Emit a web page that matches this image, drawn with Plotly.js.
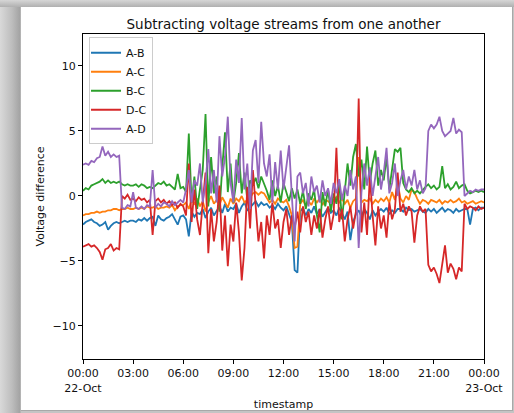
<!DOCTYPE html>
<html>
<head>
<meta charset="utf-8">
<script src="https://cdn.plot.ly/plotly-3.0.1.min.js"></script>
<style>
  html, body { margin:0; padding:0; width:514px; height:413px; overflow:hidden; }
  body { background: linear-gradient(to right, #d9d9d9 0px, #bdbdbd 12px, #a3a3a3 20px, #c4c4c4 21px); position:relative; }
  #topstrip { position:absolute; left:0; top:0; width:514px; height:7px; background: linear-gradient(to bottom, #d6d6d6 0px, #b0b0b0 7px); }
  #card { position:absolute; left:21px; top:7px; width:491px; height:403px; background:#ffffff; border-right:1px solid #a8a8a8; border-bottom:1px solid #a8a8a8; }
  #chart { position:absolute; left:0; top:0; width:514px; height:413px; }
</style>
</head>
<body>
<div id="topstrip"></div>
<div id="card"></div>
<div id="chart"></div>
<script>
// Sampling: every 10 minutes from 22-Oct 00:00 to 23-Oct 00:00
const startTime = '2019-10-22T00:00:00';
const stepMinutes = 10;

const seriesNames = ['A-B', 'A-C', 'B-C', 'D-C', 'A-D'];

const valuesAB = [
  -2.2, -2.0, -1.9, -1.8, -2.0, -2.1,
  -2.3, -2.2, -2.0, -2.6, -2.3, -2.1,
  -2.0, -2.1, -2.0, -1.9, -2.0, -1.9,
  -1.9, -2.0, -1.8, -1.9, -1.7, -1.9,
  -1.7, -1.6, -2.3, -1.5, -1.8, -1.9,
  -1.7, -1.6, -1.4, -1.8, -2.2, -1.6,
  -1.5, -1.8, -3.1, -1.2, -1.6, -1.3,
  -1.4, -1.0, -1.7, -1.2, -0.9, -1.5,
  -1.1, -0.8, -1.3, -0.6, -1.2, -0.9,
  -1.0, -0.6, -1.3, -0.8, -0.5, -1.1,
  -0.9, -0.6, -0.4, -0.8, -0.5, -0.7,
  -0.6, -0.9, -0.7, -1.0, -0.6, -0.9,
  -1.1, -0.8, -1.4, -2.0, -5.7, -5.9,
  -1.2, -0.9, -1.5, -1.0, -1.3, -0.8,
  -1.4, -1.0, -1.6, -1.2, -0.9, -1.3,
  -1.1, -1.5, -0.9, -1.3, -1.8, -1.2,
  -3.4, -2.0, -1.4, -1.1, -1.6, -1.0,
  -1.3, -1.8, -1.1, -1.5, -1.2, -1.0,
  -1.2, -0.9, -1.4, -1.1, -1.3, -1.0,
  -1.0, -1.2, -0.9, -1.1, -1.0, -1.2,
  -1.1, -1.0, -1.2, -1.3, -1.0, -1.2,
  -1.0, -1.3, -1.1, -0.9, -1.2, -1.0,
  -1.1, -1.3, -1.0, -1.2, -1.1, -1.0,
  -1.0, -2.2, -1.0, -0.9, -1.1, -0.9,
  -0.9
];

const valuesAC = [
  -1.5, -1.4, -1.4, -1.3, -1.3, -1.2,
  -1.3, -1.2, -1.2, -1.1, -1.1, -1.0,
  -1.0, -1.1, -1.0, -1.0, -0.9, -1.0,
  -1.0, -0.9, -1.0, -0.9, -1.0, -0.8,
  -0.9, -0.9, -0.8, -1.0, -0.9, -0.9,
  -0.8, -0.9, -0.7, -1.1, -0.8, -0.7,
  -0.7, -0.5, -1.0, -0.3, -0.6, -0.2,
  -0.8, -0.4, -1.2, -0.5, 0.0, -0.6,
  -0.3, -0.7, -0.1, -0.5, -0.9, -0.2,
  -0.6, -0.2, -0.4, 0.0, -0.5, -0.3,
  -0.1, 0.2, 0.3, 0.1, 0.3, 0.2,
  -0.2, -0.5, -0.3, -0.6, -0.2, -0.4,
  -0.5, -0.3, -0.8, -1.5, -4.0, -3.9,
  -0.6, -0.3, -0.8, -0.4, -0.7, -0.2,
  -0.5, -0.2, -0.7, -0.3, -0.4, -0.6,
  -0.3, -0.1, -0.5, -0.2, -0.6, -0.3,
  -0.9, -0.4, -0.2, 3.0, -0.5, -0.3,
  -0.4, -0.2, -0.6, -0.3, -0.5, -0.2,
  -0.4, -0.1, -0.5, 0.3, -0.3, 1.0,
  -0.2, -0.5, 0.0, -0.3, 0.5, 0.3,
  -0.2, -0.6, -0.3, -0.4, -0.6, -0.3,
  -0.4, -0.5, -0.3, -0.6, -0.4, -0.5,
  -0.3, -0.5, -0.4, -0.2, -0.5, -0.4,
  -0.6, -0.5, -0.4, -0.6, -0.5, -0.4,
  -0.5
];

const valuesBC = [
  0.4, 0.6, 0.5, 0.8, 0.9, 1.0,
  1.1, 1.3, 1.0, 1.2, 1.0, 1.1,
  1.0, 1.1, 0.9, 0.8, 0.9, 0.8,
  0.8, 0.9, 0.7, 0.9, 0.8, 0.6,
  0.7, 0.6, 0.8, 1.0, 0.9, 1.1,
  0.8, 0.9, 0.7, 0.5, 1.7, 0.6,
  0.7, 0.3, 4.8, -0.5, 1.5, -1.0,
  0.5, 2.0, 6.3, -0.8, 3.0, 0.2,
  1.5, -1.2, 2.2, 4.9, 0.3, 2.5,
  -0.5, 1.0, 3.3, 0.2, 1.8, -0.3,
  1.2, 0.8, 1.4, 0.6, 1.5, 1.0,
  0.4, -0.3, 1.2, 0.0, 0.8, -0.5,
  1.0, 0.3, -0.4, 0.6, -0.2, 0.5,
  -0.6, 0.4, -1.0, 0.2, -0.3, 0.5,
  -1.5, -2.8, 0.3, -0.8, 0.5, -1.2,
  0.2, -0.6, 1.0, -1.8, 0.4, 2.5,
  0.8, 3.0, 4.0, 1.5, 2.8, 0.5,
  3.8, 1.0, 2.5, 3.5, 0.8, 2.0,
  1.2, 3.0, 0.5, 2.2, 3.6, 3.4,
  3.7, 1.0, 0.5, 0.3, 0.6, 0.2,
  0.4, 0.2, 0.5, 0.7, 0.9, 0.6,
  0.8, 0.5, 0.7, 2.3, 0.6, 0.9,
  0.5, 0.7, 1.1, 0.6, 0.8, 0.9,
  0.4, 0.2, 0.3, 0.4, 0.3, 0.4,
  0.3
];

const valuesDC = [
  -3.9, -3.8, -3.7, -3.9, -3.8, -4.0,
  -4.3, -4.9, -4.1, -4.0, -3.7, -4.2,
  -4.0, -4.1, 0.0, -0.2, 0.1, -0.3,
  -0.2, -0.4, -0.1, -0.3, -0.2, -0.5,
  -0.3, -3.0, -0.4, -0.2, -0.5, -0.3,
  -0.6, -0.4, -0.7, -0.5, -0.9, -0.6,
  -0.8, -1.5, 2.5, -2.0, 0.5, -1.8,
  -3.0, -0.5, 1.8, -4.4, -1.0, -3.5,
  -2.0, 0.8, -4.2, -1.5, -5.4, -2.2,
  -3.5, -0.5, -2.8, -6.5, -4.0, 0.7,
  -2.5, 2.0, -1.0, -3.5, -2.0, -4.8,
  -1.5, -3.0, -0.5, -2.5, -1.8, -4.0,
  -2.0, -1.0, -3.0, -1.5, -2.5, -1.2,
  -2.8, -0.8, -2.0, -1.2, -3.0, -1.5,
  -2.5, -1.0, -3.2, -1.8, -0.8, -2.6,
  -1.4, 3.7, -2.0, -1.0, -3.5, -1.8,
  -0.8, -2.5, -1.2, 7.5, -2.8, -0.5,
  -3.0, 1.5, -1.5, -3.8, -0.8, -2.5,
  -1.5, -3.2, -0.5, -1.8, -1.0, 1.8,
  -1.2, -0.6, -1.5, -0.8, -1.2, -3.6,
  -1.5, -0.8, -1.2, -1.0, -5.3, -5.8,
  -5.5, -6.0, -6.7, -5.2, -3.8, -5.9,
  -5.2, -5.6, -6.4, -5.5, -5.8, -0.6,
  -1.0, -0.8, -0.9, -1.1, -0.8, -1.0,
  -0.9
];

const valuesAD = [
  2.4, 2.5, 2.4, 2.7, 2.6, 2.9,
  3.0, 3.8, 3.1, 3.4, 3.0, 3.2,
  3.0, 3.1, -0.9, -1.0, -0.7, -0.8,
  0.3, -0.9, -1.0, -0.8, -1.0, -0.7,
  -0.8, 2.0, -0.9, -0.6, -0.8, -0.5,
  -0.6, -0.8, -0.4, -0.7, -0.5, -0.3,
  -0.5, 0.5, 2.0, -0.5, 1.2, 0.8,
  2.5, -0.5, 1.0, 3.6, 0.2, 2.0,
  -0.5, 4.6, 1.5, 3.0, 6.1, 1.0,
  -0.5, 2.8, 1.0, 6.0, 0.5, 2.5,
  -1.0, 3.5, 4.3, 1.0, 5.7, 2.5,
  1.5, 3.2, -0.5, 2.6, 0.5, 3.5,
  0.5, 2.2, 3.9, 0.0, -3.5, 1.5,
  1.8, 0.2, 1.0, -0.8, 1.5, 0.3,
  0.8, -0.5, 1.2, 0.0, 0.6, -0.6,
  1.0, 0.2, 1.3, -0.3, 0.8, 0.0,
  2.0, 0.5, 1.5, -4.0, 0.3, 2.5,
  0.8, 2.2, 0.0, 1.5, 3.0, 0.5,
  1.8, 3.7, 0.2, 1.0, 2.5, 0.0,
  1.2, 2.0, 0.5, 1.5, 0.8, 2.0,
  0.5, 1.2, 0.2, 0.6, 5.0, 5.5,
  5.2, 5.5, 6.1, 5.0, 4.6, 4.8,
  5.0, 6.0, 4.8, 5.1, 4.9, 0.0,
  0.2, 0.4, 0.3, 0.5, 0.4, 0.5,
  0.5
];

const tickVals = ['2019-10-22 00:00','2019-10-22 03:00','2019-10-22 06:00','2019-10-22 09:00','2019-10-22 12:00','2019-10-22 15:00','2019-10-22 18:00','2019-10-22 21:00','2019-10-23 00:00'];
const tickText = ['00:00<br>22-Oct','03:00','06:00','09:00','12:00','15:00','18:00','21:00','00:00<br>23-Oct'];
const yTickVals = [-10, -5, 0, 5, 10];

const colors = ['#1f77b4', '#ff7f0e', '#2ca02c', '#d62728', '#9467bd'];

// timestamps
const t0 = new Date(startTime + 'Z').getTime();
const timestamps = valuesAB.map((_, i) => {
  const d = new Date(t0 + i * stepMinutes * 60000);
  return d.toISOString().slice(0, 16).replace('T', ' ');
});

const allValues = [valuesAB, valuesAC, valuesBC, valuesDC, valuesAD];
const traces = allValues.map((vals, k) => ({
  type: 'scatter', mode: 'lines', name: seriesNames[k],
  x: timestamps, y: vals,
  line: { color: colors[k], width: 1.8 }
}));

const font = { family: 'DejaVu Sans, sans-serif', size: 11, color: '#111' };

const layout = {
  width: 514, height: 413,
  margin: { l: 83, r: 30, t: 34, b: 54, pad: 0 },
  paper_bgcolor: 'rgba(0,0,0,0)',
  plot_bgcolor: '#ffffff',
  font: font,
  showlegend: true,
  title: { text: 'Subtracting voltage streams from one another', font: { family: 'DejaVu Sans, sans-serif', size: 13.5, color: '#111' }, x: 0.5, xref: 'paper', xanchor: 'center', y: 1, yref: 'paper', yanchor: 'bottom', pad: { b: 5 } },
  xaxis: {
    type: 'date',
    range: ['2019-10-22 00:00', '2019-10-23 00:00'],
    tickmode: 'array', tickvals: tickVals, ticktext: tickText,
    ticks: 'outside', ticklen: 4, tickwidth: 1, tickcolor: '#000',
    showline: true, mirror: true, linecolor: '#000', linewidth: 1,
    showgrid: false, zeroline: false,
    tickfont: font,
    title: { text: 'timestamp', font: font, standoff: 6 }
  },
  yaxis: {
    range: [-12.54, 12.46],
    tickmode: 'array', tickvals: yTickVals,
    ticks: 'outside', ticklen: 4, tickwidth: 1, tickcolor: '#000',
    showline: true, mirror: true, linecolor: '#000', linewidth: 1,
    showgrid: false, zeroline: false,
    tickfont: font,
    title: { text: 'Voltage difference', font: font, standoff: 5 }
  },
  legend: {
    x: 0.015, y: 0.99, xanchor: 'left', yanchor: 'top',
    bgcolor: 'rgba(255,255,255,0.8)', bordercolor: '#cccccc', borderwidth: 1,
    font: font, itemwidth: 30, indentation: -4
  }
};

Plotly.newPlot('chart', traces, layout, { displayModeBar: false, staticPlot: true });
</script>
</body>
</html>
